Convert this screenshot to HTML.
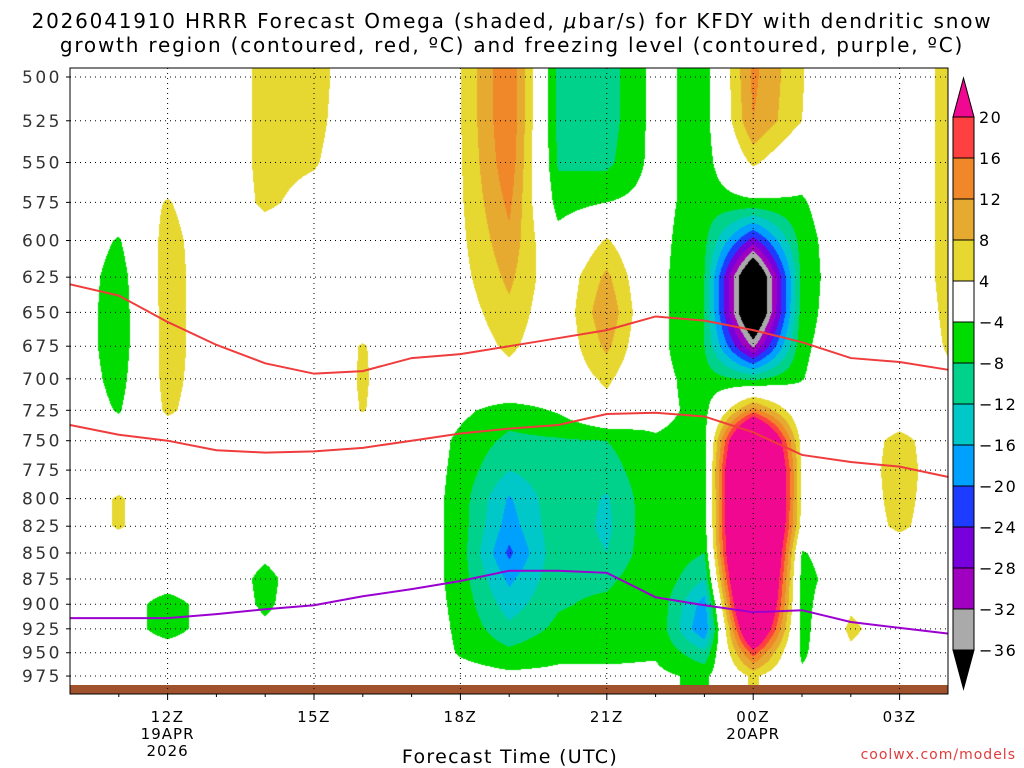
<!DOCTYPE html>
<html><head><meta charset="utf-8"><style>
body{margin:0;background:#fff;width:1024px;height:768px;overflow:hidden;position:relative;font-family:"DejaVu Sans","Liberation Sans",sans-serif}
.t{position:absolute;white-space:nowrap}
</style></head><body>
<div class="t" style="left:0;width:1024px;text-align:center;top:9px;font-size:20px;letter-spacing:1.8px">2026041910 HRRR Forecast Omega (shaded, <i>μ</i>bar/s) for KFDY with dendritic snow</div>
<div class="t" style="left:0;width:1024px;text-align:center;top:33px;font-size:20px;letter-spacing:1.8px">growth region (contoured, red, ºC) and freezing level (contoured, purple, ºC)</div>
<canvas id="cv" width="1024" height="768" style="position:absolute;left:0;top:0"></canvas>
<svg id="sv" width="1024" height="768" style="position:absolute;left:0;top:0"></svg>
<div class="t" style="left:0;width:1020px;text-align:center;top:746px;font-size:19px;letter-spacing:1.3px">Forecast Time (UTC)</div>
<div class="t" style="right:8px;top:747px;font-size:14px;color:#e03c3c;letter-spacing:1px">coolwx.com/models</div>
<script>
const levels=[500,525,550,575,600,625,650,675,700,725,750,775,800,825,850,875,900,925,950,975];
const hours=[10,11,12,13,14,15,16,17,18,19,20,21,22,23,24,25,26,27,28];
const omega=[
[0,0,0,0,0,0,0,0,0,0,0,0,0,0,0,0,0,0,0,0],
[0,0,0,0,-4.5,-6.5,-7,-7,-6,-4.5,0,0,4.6,4.6,0,0,0,0,0,0],
[0,0,0,4.4,6,6.5,6.5,6.5,6,5,0,0,0,0,0,0,-7,-7,0,0],
[0,0,0,0,0,0,0,0,0,0,0,0,0,0,0,0,0,0,0,0],
[5.5,5.5,5.5,5,1,0,0,0,0,0,0,0,0,0,-3,-5.5,-5,-3,0,0],
[6,5.5,4.5,2,0,0,0,0,0,0,0,0,0,0,0,0,0,0,0,0],
[0,0,0,0,0,0,0,4.4,4.6,4.3,0,0,0,0,0,0,0,0,0,0],
[0,0,0,0,0,0,0,0,0,0,0,0,0,0,0,0,0,0,0,0],
[3.8,3.8,3.6,3.4,3,2.5,1.5,0.5,0,-3,-5,-5.5,-6,-6,-6,-6,-5.5,-5,-4.5,-2],
[16,16,15,13,11,9,7,5,2,-6,-9,-12,-16.5,-18,-21,-17,-14,-11,-7,-3],
[-9,-9,-8.5,-6,-2,0,0,0,0,-3.5,-8.5,-9,-9,-9,-9,-9,-8.5,-7,-5,-3],
[-10,-10,-9,-4,4.5,9,11.5,9,5,2,-8,-10,-12.5,-13,-12,-9,-7,-6,-5,-3],
[-2.5,-2.5,-2.5,-2.5,-2.5,-2.5,-2.5,-2.5,-2.5,-2.5,-4.5,-4.5,-4.5,-4.5,-4.5,-4.5,-4.5,-4.5,-4.5,-3],
[-6,-6,-6,-6,-7,-8,-8,-8,-6,-5.5,-5.5,-5.5,-6,-6,-8,-12,-18,-20,-11,-5],
[13,12,5,-5,-26,-48,-48,-33,-9,14,45,55,55,55,55,50,45,35,18,5],
[4.2,4,-2,-4.5,-6,-6.5,-6,-5,-4.2,-1,2,3,3,2,-4.5,-6,-6,-6,-5,-3],
[0,0,0,0,0,0,0,0,0,0,0,0,0,0,0,0,3,5.2,3,0],
[0,0,0,0,0,0,0,0,0,0,5.8,6.5,6,5.2,0,0,0,0,0,0],
[5.5,5.5,5.5,5.5,5.5,5.5,5,4.5,3,0,0,0,0,0,0,0,0,0,0,0]];
const dgzTop=[630,638,657,674,688,696,694,684,681,675,669,663,653,656,663,672,684,687,693];
const dgzBottom=[737,745,750,758,760,759,756,750,744,740,737,728,727,730,743,762,768,772,781];
const freezing=[914,914,914,910,905,901,892,885,877,867,867,869,893,901,908,906,918,924,930];
const yTicks=[500,525,550,575,600,625,650,675,700,725,750,775,800,825,850,875,900,925,950,975];
const xTickHours=[12,15,18,21,24,27];
const xTickLabels=["12Z","15Z","18Z","21Z","00Z","03Z"];
const cbLevels=[20,16,12,8,4,-4,-8,-12,-16,-20,-24,-28,-32,-36];
const cbColors=["#f00890","#ff4040","#f0882a","#e6aa30","#e6d830","#ffffff","#00dc00","#00d28c","#00c8c8","#00a0ff","#1e3cff","#7800dc","#a000c0","#aaaaaa","#000000"];

const X0=70,X1=948,Y0=68,Y1=694;
const xs=h=>X0+(h-10)*48.8;
const ys=p=>77+897*Math.log(p/500);
function colorIdx(v){if(v>=20)return 0;if(v>=16)return 1;if(v>=12)return 2;if(v>=8)return 3;if(v>=4)return 4;if(v>-4)return 5;
 if(v>-8)return 6;if(v>-12)return 7;if(v>-16)return 8;if(v>-20)return 9;if(v>-24)return 10;if(v>-28)return 11;if(v>-32)return 12;if(v>-36)return 13;return 14;}
function hex(c){return [parseInt(c.substr(1,2),16),parseInt(c.substr(3,2),16),parseInt(c.substr(5,2),16)];}
const rgb=cbColors.map(hex);
const cv=document.getElementById('cv'),ctx=cv.getContext('2d');
const img=ctx.createImageData(X1-X0,Y1-Y0);
for(let py=Y0;py<Y1;py++){
 let p=500*Math.exp((py+0.5-77)/897);p=Math.max(500,Math.min(975,p));
 let li=Math.min(18,Math.floor((p-500)/25)),lf=(p-levels[li])/25;
 for(let px=X0;px<X1;px++){
  let h=10+(px+0.5-X0)/48.8;h=Math.max(10,Math.min(28,h));
  let hi=Math.min(17,Math.floor(h-10)),hf=h-hours[hi];
  const v=(omega[hi][li]*(1-lf)+omega[hi][li+1]*lf)*(1-hf)+(omega[hi+1][li]*(1-lf)+omega[hi+1][li+1]*lf)*hf;
  const c=rgb[colorIdx(v)],k=((py-Y0)*(X1-X0)+(px-X0))*4;
  img.data[k]=c[0];img.data[k+1]=c[1];img.data[k+2]=c[2];img.data[k+3]=255;}}
ctx.putImageData(img,X0,Y0);

const NS="http://www.w3.org/2000/svg",sv=document.getElementById('sv');
function mk(tag,attrs,txt){const e=document.createElementNS(NS,tag);for(const k in attrs)e.setAttribute(k,attrs[k]);if(txt!==undefined)e.textContent=txt;sv.appendChild(e);return e;}
let terr=mk('rect',{x:X0,y:685,width:X1-X0,height:Y1-685,fill:'#a0522d'});


yTicks.forEach(p=>{const y=ys(p);
 let g=mk('line',{x1:X0,x2:X1,y1:y,y2:y,stroke:'#000','stroke-width':1,'stroke-dasharray':'1,4'});
 
 
 let tk=mk('line',{x1:X0-4,x2:X0,y1:y,y2:y,stroke:'#000'});
 
 
 let t=mk('text',{x:62,y:y+6,'text-anchor':'end','font-size':17,'letter-spacing':2.5,'font-family':'DejaVu Sans, sans-serif',fill:'#333'},String(p));
 
 });
xTickHours.forEach((h,i)=>{const x=xs(h);
 let g=mk('line',{x1:x,x2:x,y1:Y0,y2:Y1,stroke:'#000','stroke-width':1,'stroke-dasharray':'1,4'});
 
 
 let tk=mk('line',{x1:x,x2:x,y1:Y1,y2:Y1+6,stroke:'#000'});
 
 
 let t=mk('text',{x:x,y:722,'text-anchor':'middle','font-size':15,'letter-spacing':1.5,'font-family':'DejaVu Sans, sans-serif'},xTickLabels[i]);
 
 });
for(let h=11;h<28;h++){if(xTickHours.includes(h))continue;const x=xs(h);
 let tk=mk('line',{x1:x,x2:x,y1:Y1,y2:Y1+3,stroke:'#000'});
 
 }
[["19APR",xs(12),739],["2026",xs(12),756],["20APR",xs(24),739]].forEach(a=>{
 let t=mk('text',{x:a[1],y:a[2],'text-anchor':'middle','font-size':15,'letter-spacing':1,'font-family':'DejaVu Sans, sans-serif'},a[0]);
 
 });
function line(arr,color,name){const pts=arr.map((p,i)=>xs(hours[i])+','+ys(p)).join(' ');
 let l=mk('polyline',{points:pts,fill:'none',stroke:color,'stroke-width':2});
 
 }
line(dgzTop,'#f03c3c','dgz-upper-contour');
line(dgzBottom,'#f03c3c','dgz-lower-contour');
line(freezing,'#9b00d0','freezing-level-contour');
let fr=mk('rect',{x:X0,y:Y0,width:X1-X0,height:Y1-Y0,fill:'none',stroke:'#000','stroke-width':1});


const CX=953,CW=21,CT=117,CS=41;
let tri=mk('polygon',{points:`${CX},${CT} ${CX+CW},${CT} ${CX+CW/2},${CT-39}`,fill:cbColors[0],stroke:'#000'});


for(let i=1;i<14;i++){let r=mk('rect',{x:CX,y:CT+(i-1)*CS,width:CW,height:CS,fill:cbColors[i],stroke:'#000'});
 
 }
let bot=CT+13*CS;
let tri2=mk('polygon',{points:`${CX},${bot} ${CX+CW},${bot} ${CX+CW/2},${bot+39}`,fill:cbColors[14],stroke:'#000'});


cbLevels.forEach((v,i)=>{let t=mk('text',{x:979,y:CT+i*CS+6,'font-size':16,'letter-spacing':1.5,'font-family':'DejaVu Sans, sans-serif'},(v<0?'\u2212':'')+Math.abs(v));
 
 });
</script>
</body></html>
